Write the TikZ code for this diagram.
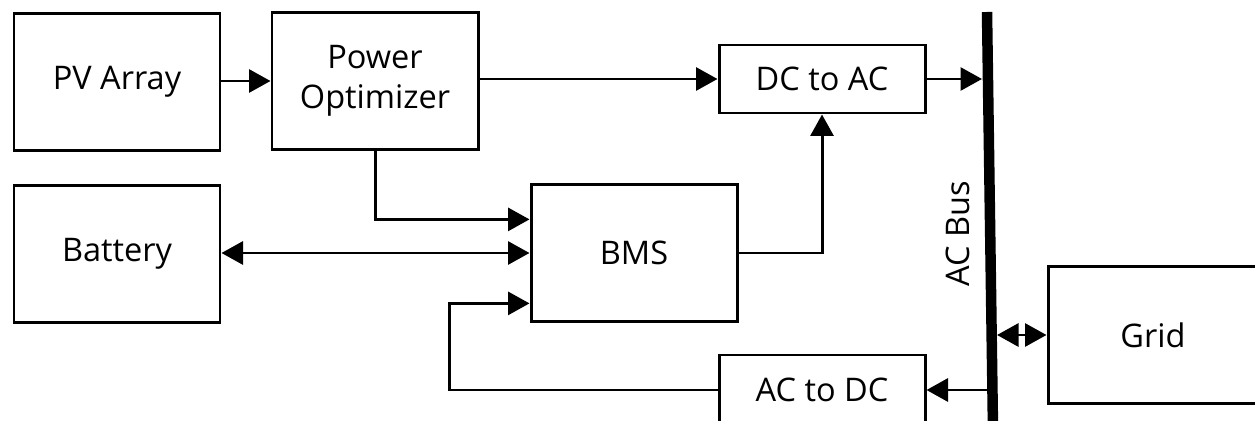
\documentclass[tikz,border=0pt]{standalone}
\usepackage{fontspec}
\setmainfont{Open Sans}
\usetikzlibrary{calc, arrows.meta}

\tikzset{
    box/.style={draw, line width=1.7pt, minimum width=41.2mm, minimum height=27.4mm,
        inner sep=0pt, align=center, font=\fontsize{18.5}{23}\selectfont},
    smallbox/.style={box, minimum height=13.6mm},
    arr/.style={line width=1.7pt, -{Triangle[length=4.3mm, width=4.6mm]}},
    biarr/.style={line width=1.7pt, {Triangle[length=4.3mm, width=4.6mm]}-{Triangle[length=4.3mm, width=4.6mm]}},
    bus/.style={line width=2.1mm}
}

\begin{document}
\begin{tikzpicture}[x=0.2mm, y=-0.2mm]
    \useasboundingbox (0,0) rectangle (1255,421);

    % Blocks
    \node[box] (pv) at (117,82) {PV Array};
    \node[box] (opt) at (375,81) {Power\\Optimizer};
    \node[box] (bat) at (117,254) {Battery};
    \node[box] (bms) at (634,253) {BMS};
    \node[smallbox] (dcac) at (822,79) {DC to AC};
    \node[smallbox, minimum height=14mm] (acdc) at (822,390) {AC to DC};
    \node[box, minimum width=42mm] (grid) at (1153,335) {Grid};

    % AC bus
    \coordinate (bustop) at (987,12);
    \coordinate (busbot) at (993,430);
    \node[rotate=90, font=\fontsize{18.5}{23}\selectfont] (buslabel) at (958,234) {AC Bus};

    % Input points on the BMS
    \coordinate (bmsa) at ($(bms.north west)!0.26!(bms.south west)$);
    \coordinate (bmsc) at ($(bms.north west)!0.86!(bms.south west)$);

    % Connections
    \draw[arr] (pv.east |- opt.west) -- (opt.west);
    \draw[arr] (opt.east |- dcac.west) -- (dcac.west);
    \draw[arr] (opt.south) |- (bmsa);
    \draw[biarr] (bat.east |- bms.west) -- (bms.west);
    \draw[arr] (bms.east) -| (dcac.south);
    \draw[arr] (acdc.west) -- ++(-268,0) |- (bmsc);
    \draw[arr] (dcac.east) -- ($(dcac.east -| bustop)+(-5,0)$);
    \draw[arr] (acdc.east -| busbot) -- (acdc.east);
    \draw[biarr] ($(grid.west -| busbot)+(4,0)$) -- (grid.west);

    \draw[bus] (bustop) -- (busbot);
\end{tikzpicture}
\end{document}
